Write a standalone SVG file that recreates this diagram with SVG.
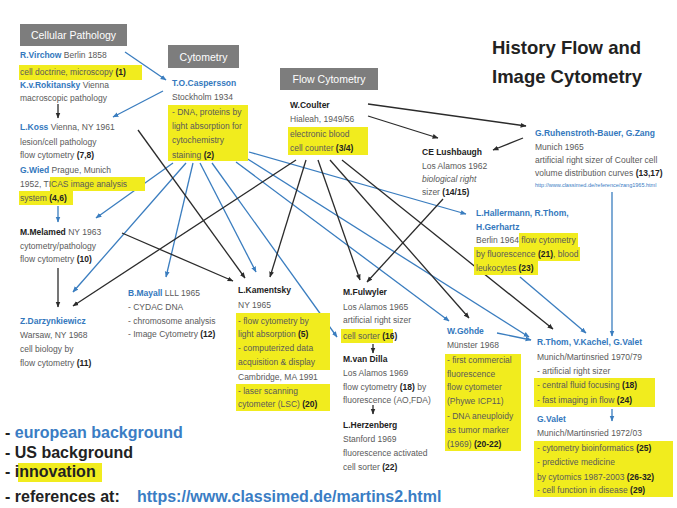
<svg xmlns="http://www.w3.org/2000/svg" width="677" height="508" viewBox="0 0 677 508">
<defs>
<style>
text{font-family:"Liberation Sans",Arial,sans-serif;font-size:8.5px;fill:#5a5a5a}
.e{font-weight:bold;fill:#3478bd}
.u{font-weight:bold;fill:#222}
.hl{fill:#f1ec1e}
.hd{fill:#7d7d7d}
.hdt{fill:#fff;font-size:10.5px}
.cb{stroke:#3a7dbf;stroke-width:1.3;fill:none;marker-end:url(#ab)}
.ck{stroke:#2b2b2b;stroke-width:1.3;fill:none;marker-end:url(#ak)}
.title{font-size:18.5px;font-weight:bold;fill:#222}
.lg{font-size:16px;font-weight:bold;fill:#222}
.lgb{fill:#3a7dc4}
</style>
<marker id="ab" viewBox="0 0 10 10" refX="9" refY="5" markerWidth="6" markerHeight="6" orient="auto" markerUnits="userSpaceOnUse"><path d="M0,1 L10,5 L0,9 z" fill="#3a7dbf"/></marker>
<marker id="ak" viewBox="0 0 10 10" refX="9" refY="5" markerWidth="6" markerHeight="6" orient="auto" markerUnits="userSpaceOnUse"><path d="M0,1 L10,5 L0,9 z" fill="#2b2b2b"/></marker>
</defs>
<rect width="677" height="508" fill="#fff"/>

<g id="connectors">
<path class="cb" d="M125,52 L166,80"/>
<path class="cb" d="M163,91 L113,117"/>
<path class="cb" d="M173,163 L96,218"/>
<path class="cb" d="M186,163 L73,292"/>
<path class="cb" d="M193,163 L166,277"/>
<path class="cb" d="M200,163 L256,272"/>
<path class="cb" d="M212,163 L337,337"/>
<path class="cb" d="M236,162 L449,321"/>
<path class="cb" d="M246,158 L529,337"/>
<path class="cb" d="M249,152 L466,214"/>
<path class="cb" d="M58,206 L58,222"/>
<path class="cb" d="M612,192 L612,336"/>
<path class="cb" d="M520,277 L586,333"/>
<path class="cb" d="M497,333 L531,340"/>
<path class="cb" d="M612,409 L612,421"/>
<path class="ck" d="M58,104 L58,118"/>
<path class="ck" d="M138,130 L245,278"/>
<path class="ck" d="M122,233 L233,281"/>
<path class="ck" d="M58,268 L58,307"/>
<path class="ck" d="M296,160 L73,306"/>
<path class="ck" d="M306,160 L270,277"/>
<path class="ck" d="M318,160 L360,280"/>
<path class="ck" d="M330,160 L469,318"/>
<path class="ck" d="M342,160 L553,329"/>
<path class="ck" d="M368,104 L526,126"/>
<path class="ck" d="M368,116 L438,138"/>
<path class="ck" d="M523,138 L493,150"/>
<path class="ck" d="M443,199 L367,282"/>
<path class="ck" d="M373,344 L373,353"/>
<path class="ck" d="M373,405 L373,414"/>
</g>

<g id="title">
<text class="title" x="492" y="54">History Flow and</text>
<text class="title" x="492" y="83">Image Cytometry</text>
</g>

<g id="hdr-cellular">
<rect class="hd" x="20" y="24" width="107" height="22"/>
<text class="hdt" x="73.5" y="39" text-anchor="middle">Cellular Pathology</text>
</g>
<g id="hdr-cytometry">
<rect class="hd" x="168" y="45" width="71" height="23"/>
<text class="hdt" x="203.5" y="60.5" text-anchor="middle">Cytometry</text>
</g>
<g id="hdr-flow">
<rect class="hd" x="280" y="68" width="98" height="22"/>
<text class="hdt" x="329" y="83" text-anchor="middle">Flow Cytometry</text>
</g>

<g id="virchow">
<rect class="hl" x="19" y="65" width="123" height="15"/>
<text x="20" y="58"><tspan class="e">R.Virchow</tspan> Berlin 1858</text>
<text x="20" y="75">cell doctrine, microscopy <tspan font-weight="bold" fill="#222">(1)</tspan></text>
<text x="20" y="88"><tspan class="e">K.v.Rokitansky</tspan> Vienna</text>
<text x="20" y="101">macroscopic pathology</text>
</g>

<g id="koss">
<rect class="hl" x="50" y="177" width="95" height="14"/>
<rect class="hl" x="19" y="191" width="54" height="14"/>
<text x="20" y="130"><tspan class="e">L.Koss</tspan> Vienna, NY 1961</text>
<text x="20" y="145">lesion/cell pathology</text>
<text x="20" y="158">flow cytometry <tspan font-weight="bold" fill="#222">(7,8)</tspan></text>
<text x="20" y="173"><tspan class="e">G.Wied</tspan> Prague, Munich</text>
<text x="20" y="187">1952, TICAS image analysis</text>
<text x="20" y="201">system <tspan font-weight="bold" fill="#222">(4,6)</tspan></text>
</g>

<g id="melamed">
<text x="20" y="235"><tspan class="u">M.Melamed</tspan> NY 1963</text>
<text x="20" y="249">cytometry/pathology</text>
<text x="20" y="262">flow cytometry <tspan font-weight="bold" fill="#222">(10)</tspan></text>
</g>

<g id="darzynkiewicz">
<text x="20" y="324"><tspan class="e">Z.Darzynkiewicz</tspan></text>
<text x="20" y="338">Warsaw, NY 1968</text>
<text x="20" y="352">cell biology by</text>
<text x="20" y="366">flow cytometry <tspan font-weight="bold" fill="#222">(11)</tspan></text>
</g>

<g id="caspersson">
<rect class="hl" x="168" y="105" width="80" height="56"/>
<text x="172" y="86"><tspan class="e">T.O.Caspersson</tspan></text>
<text x="172" y="100">Stockholm 1934</text>
<text x="172" y="115">- DNA, proteins by</text>
<text x="172" y="129">light absorption for</text>
<text x="172" y="143">cytochemistry</text>
<text x="172" y="158">staining <tspan font-weight="bold" fill="#222">(2)</tspan></text>
</g>

<g id="coulter">
<rect class="hl" x="288" y="127" width="80" height="28"/>
<text x="290" y="108"><tspan class="u">W.Coulter</tspan></text>
<text x="290" y="122">Hialeah, 1949/56</text>
<text x="290" y="137">electronic blood</text>
<text x="290" y="151">cell counter <tspan font-weight="bold" fill="#222">(3/4)</tspan></text>
</g>

<g id="lushbaugh">
<text x="422" y="155"><tspan class="u">CE Lushbaugh</tspan></text>
<text x="422" y="169">Los Alamos 1962</text>
<text x="422" y="182" font-style="italic">biological right</text>
<text x="422" y="195">sizer <tspan font-weight="bold" fill="#222">(14/15)</tspan></text>
</g>

<g id="ruhenstroth">
<text x="535" y="136"><tspan class="e">G.Ruhenstroth-Bauer, G.Zang</tspan></text>
<text x="535" y="150">Munich 1965</text>
<text x="535" y="163">artificial right sizer of Coulter cell</text>
<text x="535" y="176">volume distribution curves <tspan font-weight="bold" fill="#222">(13,17)</tspan></text>
<text x="535" y="187" style="font-size:5.5px;fill:#3a7dc4">http://www.classimed.de/reference/zang1965.html</text>
</g>

<g id="hallermann">
<rect class="hl" x="519" y="233" width="59" height="14"/>
<rect class="hl" x="474" y="247" width="106" height="14"/>
<rect class="hl" x="474" y="261" width="64" height="14"/>
<text x="476" y="216"><tspan class="e">L.Hallermann, R.Thom,</tspan></text>
<text x="476" y="230"><tspan class="e">H.Gerhartz</tspan></text>
<text x="476" y="243">Berlin 1964 flow cytometry</text>
<text x="476" y="257">by fluorescence <tspan font-weight="bold" fill="#222">(21)</tspan>, blood</text>
<text x="476" y="271">leukocytes <tspan font-weight="bold" fill="#222">(23)</tspan></text>
</g>

<g id="mayall">
<text x="128" y="296"><tspan class="e">B.Mayall</tspan> LLL 1965</text>
<text x="128" y="310">- CYDAC DNA</text>
<text x="128" y="324">- chromosome analysis</text>
<text x="128" y="337">- Image Cytometry <tspan font-weight="bold" fill="#222">(12)</tspan></text>
</g>

<g id="kamentsky">
<rect class="hl" x="236" y="313" width="94" height="57"/>
<rect class="hl" x="236" y="384" width="94" height="27"/>
<text x="238" y="293"><tspan class="u">L.Kamentsky</tspan></text>
<text x="238" y="308">NY 1965</text>
<text x="238" y="324">- flow cytometry by</text>
<text x="238" y="337">light absorption <tspan font-weight="bold" fill="#222">(5)</tspan></text>
<text x="238" y="351">- computerized data</text>
<text x="238" y="365">acquisition &amp; display</text>
<text x="238" y="380">Cambridge, MA 1991</text>
<text x="238" y="394">- laser scanning</text>
<text x="238" y="407">cytometer (LSC) <tspan font-weight="bold" fill="#222">(20)</tspan></text>
</g>

<g id="fulwyler">
<rect class="hl" x="341" y="329" width="52" height="14"/>
<text x="343" y="295"><tspan class="u">M.Fulwyler</tspan></text>
<text x="343" y="310">Los Alamos 1965</text>
<text x="343" y="323">artificial right sizer</text>
<text x="343" y="339">cell sorter <tspan font-weight="bold" fill="#222">(16)</tspan></text>
</g>

<g id="vandilla">
<text x="343" y="362"><tspan class="u">M.van Dilla</tspan></text>
<text x="343" y="376">Los Alamos 1969</text>
<text x="343" y="390">flow cytometry <tspan font-weight="bold" fill="#222">(18)</tspan> by</text>
<text x="343" y="403">fluorescence (AO,FDA)</text>
</g>

<g id="herzenberg">
<text x="343" y="428"><tspan class="u">L.Herzenberg</tspan></text>
<text x="343" y="442">Stanford 1969</text>
<text x="343" y="456">fluorescence activated</text>
<text x="343" y="470">cell sorter <tspan font-weight="bold" fill="#222">(22)</tspan></text>
</g>

<g id="goehde">
<rect class="hl" x="445" y="354" width="76" height="97"/>
<text x="447" y="334"><tspan class="e">W.Göhde</tspan></text>
<text x="447" y="348">Münster 1968</text>
<text x="447" y="363">- first commercial</text>
<text x="447" y="377">fluorescence</text>
<text x="447" y="390">flow cytometer</text>
<text x="447" y="404">(Phywe ICP11)</text>
<text x="447" y="419">- DNA aneuploidy</text>
<text x="447" y="433">as tumor marker</text>
<text x="447" y="447">(1969) <tspan font-weight="bold" fill="#222">(20-22)</tspan></text>
</g>

<g id="thorn">
<rect class="hl" x="534" y="378" width="121" height="29"/>
<text x="537" y="345"><tspan class="e">R.Thom, V.Kachel, G.Valet</tspan></text>
<text x="537" y="360">Munich/Martinsried 1970/79</text>
<text x="537" y="374">- artificial right sizer</text>
<text x="537" y="388">- central fluid focusing <tspan font-weight="bold" fill="#222">(18)</tspan></text>
<text x="537" y="403">- fast imaging in flow <tspan font-weight="bold" fill="#222">(24)</tspan></text>
</g>

<g id="valet">
<rect class="hl" x="534" y="441" width="139" height="56"/>
<text x="537" y="422"><tspan class="e">G.Valet</tspan></text>
<text x="537" y="436">Munich/Martinsried 1972/03</text>
<text x="537" y="451">- cytometry bioinformatics <tspan font-weight="bold" fill="#222">(25)</tspan></text>
<text x="537" y="465">- predictive medicine</text>
<text x="537" y="480">by cytomics 1987-2003 <tspan font-weight="bold" fill="#222">(26-32)</tspan></text>
<text x="537" y="493">- cell function in disease <tspan font-weight="bold" fill="#222">(29)</tspan></text>
</g>

<g id="legend">
<rect class="hl" x="18" y="463" width="84" height="19"/>
<text class="lg" x="5" y="438">- <tspan class="lgb">european background</tspan></text>
<text class="lg" x="5" y="458">- US background</text>
<text class="lg" x="5" y="477">- innovation</text>
<text class="lg" x="5" y="502">- references at:  <tspan class="lgb" x="137">https://www.classimed.de/martins2.html</tspan></text>
</g>
</svg>
